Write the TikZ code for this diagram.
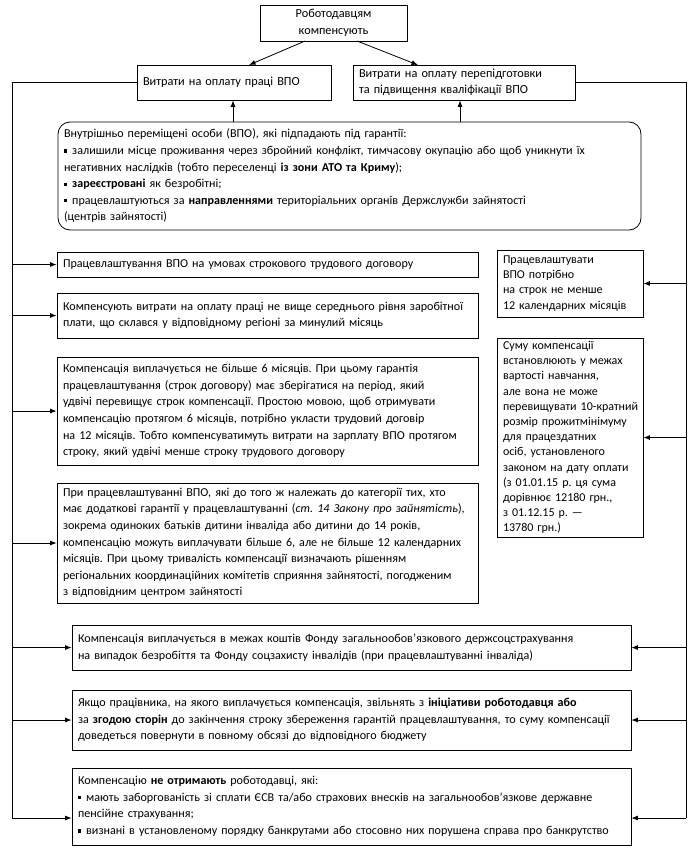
\documentclass[tikz,border=0pt]{standalone}
\usepackage{fontspec}
\setmainfont{Carlito}
\frenchspacing
\usetikzlibrary{arrows.meta}
\newcommand{\bul}{\raisebox{1.9pt}{\rule{3.2pt}{3.2pt}}\hspace{5pt}}
\begin{document}
\begin{tikzpicture}[x=1pt,y=1pt,
  bx/.style={draw,line width=0.8pt,inner xsep=6pt,inner ysep=1pt,align=left,anchor=center},
  fh/.style={font=\fontsize{12.3}{16.5}\selectfont},
  fl/.style={font=\fontsize{12.1}{16.6}\selectfont},
  fw/.style={font=\fontsize{12.1}{16.6}\selectfont},
  fr/.style={font=\fontsize{12}{15.2}\selectfont},
  arr/.style={line width=0.8pt,-{Latex[length=6.5pt,width=5pt]}},
  ln/.style={line width=0.8pt}]
\useasboundingbox (0,0) rectangle (698,-859);
\node[bx,fh,align=center,minimum width=147pt,minimum height=36pt,text width=135pt] (top) at (333.5,-23) {Роботодавцям\\компенсують};
\node[bx,fh,minimum width=194pt,minimum height=35pt,text width=182pt] (L) at (234,-82.5) {Витрати на оплату праці ВПО};
\node[bx,fh,minimum width=222pt,minimum height=35pt,text width=210pt] (R) at (464,-82.5) {Витрати на оплату перепідготовки\\та підвищення кваліфікації ВПО};
\node[bx,fw,rounded corners=12pt,minimum width=583pt,minimum height=108pt,text width=571pt] (vpo) at (349.5,-176) {Внутрішньо переміщені особи (ВПО), які підпадають під гарантії:\\
\bul залишили місце проживання через збройний конфлікт, тимчасову окупацію або щоб уникнути їх\\
негативних наслідків (тобто переселенці \textbf{із зони АТО та Криму});\\
\bul \textbf{зареєстровані} як безробітні;\\
\bul працевлаштуються за \textbf{направленнями} територіальних органів Держслужби зайнятості\\
(центрів зайнятості)};
\node[bx,fl,minimum width=421pt,minimum height=25pt,text width=409pt] (b1) at (267.5,-264.5) {Працевлаштування ВПО на умовах строкового трудового договору};
\node[bx,fl,minimum width=421pt,minimum height=45pt,text width=409pt] (b2) at (267.5,-315.5) {Компенсують витрати на оплату праці не вище середнього рівня заробітної\\плати, що склався у відповідному регіоні за минулий місяць};
\node[bx,fl,minimum width=421pt,minimum height=108pt,text width=409pt] (b3) at (267.5,-411) {Компенсація виплачується не більше 6 місяців. При цьому гарантія\\працевлаштування (строк договору) має зберігатися на період, який\\удвічі перевищує строк компенсації. Простою мовою, щоб отримувати\\компенсацію протягом 6 місяців, потрібно укласти трудовий договір\\на 12 місяців. Тобто компенсуватимуть витрати на зарплату ВПО протягом\\строку, який удвічі менше строку трудового договору};
\node[bx,fl,minimum width=421pt,minimum height=120pt,text width=409pt] (b4) at (267.5,-543) {При працевлаштуванні ВПО, які до того ж належать до категорії тих, хто\\має додаткові гарантії у працевлаштуванні (\textit{ст. 14 Закону про зайнятість}),\\зокрема одиноких батьків дитини інваліда або дитини до 14 років,\\компенсацію можуть виплачувати більше 6, але не більше 12 календарних\\місяців. При цьому тривалість компенсації визначають рішенням\\регіональних координаційних комітетів сприяння зайнятості, погодженим\\з відповідним центром зайнятості};
\node[bx,fr,minimum width=146pt,minimum height=67pt,text width=134pt] (r1) at (570,-283.5) {Працевлаштувати\\ВПО потрібно\\на строк не менше\\12 календарних місяців};
\node[bx,fr,minimum width=146pt,minimum height=199pt,text width=134pt] (r2) at (570,-437.5) {Суму компенсації\\встановлюють у межах\\вартості навчання,\\але вона не може\\\makebox[134pt][l]{перевищувати 10-кратний}\\розмір прожитмінімуму\\для працездатних\\осіб, установленого\\законом на дату оплати\\(з 01.01.15 р. ця сума\\дорівнює 12180 грн.,\\з 01.12.15 р. —\\13780 грн.)};
\node[bx,fw,minimum width=559pt,minimum height=45pt,text width=547pt] (b5) at (351.5,-647.5) {Компенсація виплачується в межах коштів Фонду загальнообов’язкового держсоцстрахування\\на випадок безробіття та Фонду соцзахисту інвалідів (при працевлаштуванні інваліда)};
\node[bx,fw,minimum width=559pt,minimum height=60pt,text width=547pt] (b6) at (351.5,-720) {Якщо працівника, на якого виплачується компенсація, звільнять з \textbf{ініціативи роботодавця або}\\за \textbf{згодою сторін} до закінчення строку збереження гарантій працевлаштування, то суму компенсації\\доведеться повернути в повному обсязі до відповідного бюджету};
\node[bx,fw,minimum width=559pt,minimum height=77pt,text width=547pt] (b7) at (351.5,-806.5) {Компенсацію \textbf{не отримають} роботодавці, які:\\
\bul мають заборгованість зі сплати ЄСВ та/або страхових внесків на загальнообов’язкове державне\\пенсійне страхування;\\
\bul визнані в установленому порядку банкрутами або стосовно них порушена справа про банкрутство};
\coordinate (lc) at (12,-82.5);
\coordinate (rc) at (686,-82.5);
\coordinate (lb) at (12,-818);
\coordinate (rb) at (686,-818);
\coordinate (t1) at (305,-41);
\coordinate (t2) at (357,-41);
\draw[arr] (t1) -- (249,-65);
\draw[arr] (t2) -- (418,-65);
\draw[arr] (vpo.north -| 233,0) -- (L.south -| 233,0);
\draw[arr] (vpo.north -| 460,0) -- (R.south -| 460,0);
\draw[ln] (L.west) -- (lc) -- (lb);
\draw[ln] (R.east) -- (rc) -- (rb);
\foreach \n in {b1,b2,b3,b4,b5,b6} {\draw[arr] (lc |- \n.west) -- (\n.west);}
\draw[arr] (lb) -- (b7.west |- lb);
\foreach \n in {r1,r2,b5,b6} {\draw[arr] (rc |- \n.east) -- (\n.east);}
\draw[arr] (rb) -- (b7.east |- rb);
\end{tikzpicture}
\end{document}
